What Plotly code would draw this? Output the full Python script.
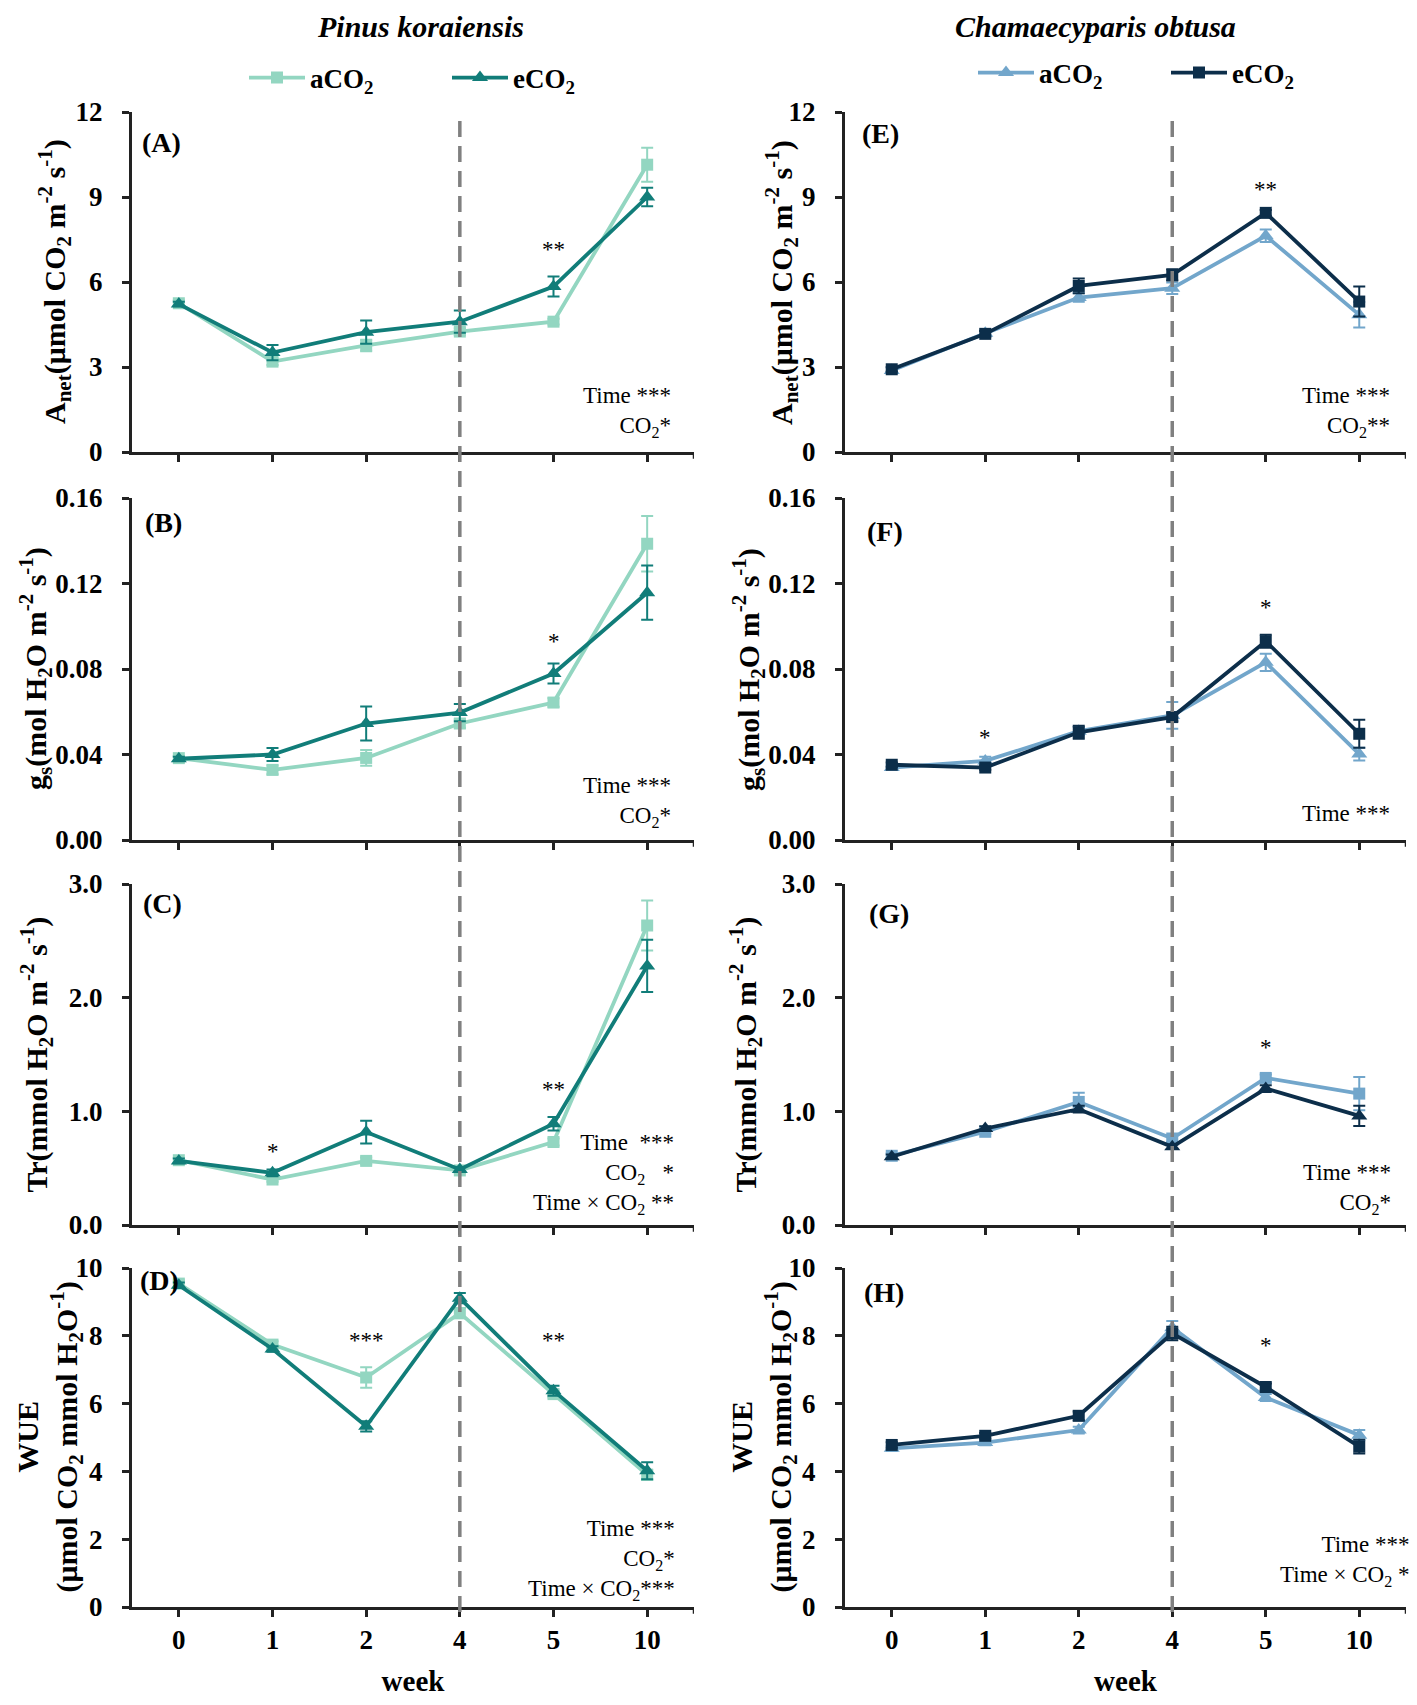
import plotly.graph_objects as go

# page has an 8px body margin, so the figure is sized to fit the 1417x1705 window
OFF = 8
W, H = 1417 - 2 * OFF, 1705 - 2 * OFF

weeks = ["0", "1", "2", "4", "5", "10"]

# Pinus koraiensis
pk_anet_a = [5.25, 3.19, 3.76, 4.25, 4.60, 10.14]
pk_anet_a_err = [0.10, 0.12, 0.20, 0.12, 0.10, 0.60]
pk_anet_e = [5.22, 3.51, 4.23, 4.60, 5.84, 9.00]
pk_anet_e_err = [0.08, 0.27, 0.41, 0.39, 0.35, 0.33]

pk_gs_a = [0.0383, 0.0328, 0.0384, 0.0545, 0.0643, 0.1386]
pk_gs_a_err = [0.001, 0.002, 0.0037, 0.002, 0.002, 0.013]
pk_gs_e = [0.0380, 0.0400, 0.0545, 0.0596, 0.0779, 0.1157]
pk_gs_e_err = [0.001, 0.003, 0.008, 0.004, 0.0047, 0.0127]

pk_tr_a = [0.57, 0.40, 0.564, 0.48, 0.73, 2.635]
pk_tr_a_err = [0.02, 0.02, 0.03, 0.02, 0.03, 0.22]
pk_tr_e = [0.564, 0.459, 0.818, 0.488, 0.891, 2.279]
pk_tr_e_err = [0.02, 0.03, 0.10, 0.02, 0.06, 0.23]

pk_wue_a = [9.54, 7.74, 6.77, 8.67, 6.28, 3.90]
pk_wue_a_err = [0.10, 0.10, 0.30, 0.15, 0.10, 0.15]
pk_wue_e = [9.49, 7.61, 5.33, 9.11, 6.38, 4.02]
pk_wue_e_err = [0.08, 0.08, 0.15, 0.15, 0.15, 0.25]

# Chamaecyparis obtusa
co_anet_a = [2.88, 4.19, 5.45, 5.78, 7.63, 4.84]
co_anet_a_err = [0.08, 0.10, 0.15, 0.20, 0.22, 0.45]
co_anet_e = [2.92, 4.17, 5.86, 6.25, 8.44, 5.31]
co_anet_e_err = [0.08, 0.10, 0.26, 0.20, 0.10, 0.53]

co_gs_a = [0.0339, 0.0370, 0.0509, 0.0583, 0.0831, 0.0402]
co_gs_a_err = [0.001, 0.002, 0.002, 0.0063, 0.004, 0.003]
co_gs_e = [0.0352, 0.0339, 0.0504, 0.0575, 0.0930, 0.0497]
co_gs_e_err = [0.001, 0.001, 0.003, 0.002, 0.003, 0.0066]

co_tr_a = [0.609, 0.82, 1.083, 0.761, 1.294, 1.156]
co_tr_a_err = [0.02, 0.02, 0.08, 0.03, 0.03, 0.146]
co_tr_e = [0.60, 0.849, 1.019, 0.688, 1.20, 0.96]
co_tr_e_err = [0.02, 0.02, 0.03, 0.02, 0.03, 0.09]

co_wue_a = [4.68, 4.85, 5.22, 8.24, 6.18, 5.07]
co_wue_a_err = [0.08, 0.08, 0.10, 0.20, 0.10, 0.15]
co_wue_e = [4.78, 5.05, 5.64, 8.07, 6.49, 4.73]
co_wue_e_err = [0.08, 0.08, 0.13, 0.20, 0.10, 0.20]

series_names = ["aCO<sub>2</sub>", "eCO<sub>2</sub>"]

PK_LIGHT, PK_DARK = "#93d6c1", "#117d79"
CO_LIGHT, CO_DARK = "#72a6cb", "#0c2e4a"
FONT = "Liberation Serif"


def px2x(p):
    return (p - OFF) / W


def px2y(p):
    return 1 - (p - OFF) / H


rows_px = [(112, 452), (498, 840), (884, 1225), (1268, 1607)]
cols_px = [(132, 694), (845, 1406)]

panels = [
    (0, 0, pk_anet_a, pk_anet_a_err, pk_anet_e, pk_anet_e_err, "square", "triangle-up"),
    (0, 1, pk_gs_a, pk_gs_a_err, pk_gs_e, pk_gs_e_err, "square", "triangle-up"),
    (0, 2, pk_tr_a, pk_tr_a_err, pk_tr_e, pk_tr_e_err, "square", "triangle-up"),
    (0, 3, pk_wue_a, pk_wue_a_err, pk_wue_e, pk_wue_e_err, "square", "triangle-up"),
    (1, 0, co_anet_a, co_anet_a_err, co_anet_e, co_anet_e_err, "triangle-up", "square"),
    (1, 1, co_gs_a, co_gs_a_err, co_gs_e, co_gs_e_err, "triangle-up", "square"),
    (1, 2, co_tr_a, co_tr_a_err, co_tr_e, co_tr_e_err, "square", "triangle-up"),
    (1, 3, co_wue_a, co_wue_a_err, co_wue_e, co_wue_e_err, "triangle-up", "square"),
]

y_ranges = [[0, 12], [0, 0.16], [0, 3], [0, 10]]
y_dticks = [3, 0.04, 1, 2]
y_formats = ["d", ".2f", ".1f", "d"]

y_titles = [
    "A<sub>net</sub>(μmol CO<sub>2</sub> m<sup>-2</sup> s<sup>-1</sup>)",
    "g<sub>s</sub>(mol H<sub>2</sub>O m<sup>-2</sup> s<sup>-1</sup>)",
    "Tr(mmol H<sub>2</sub>O m<sup>-2</sup> s<sup>-1</sup>)",
    "WUE<br>(μmol CO<sub>2</sub> mmol H<sub>2</sub>O<sup>-1</sup>)",
]
y_title_x = [[55, 35, 37, 49], [782, 748, 746, 763]]

letters = ["(A)", "(B)", "(C)", "(D)", "(E)", "(F)", "(G)", "(H)"]
letter_pos = [(140, 143), (143, 522), (141, 903), (138, 1280),
              (860, 133), (865, 532), (867, 913), (862, 1292)]

stats_text = [
    "Time ***<br>CO<sub>2</sub>*",
    "Time ***<br>CO<sub>2</sub>*",
    "Time\u00a0\u00a0***<br>CO<sub>2</sub>\u00a0\u00a0\u00a0*<br>Time × CO<sub>2</sub> **",
    "Time ***<br>CO<sub>2</sub>*<br>Time × CO<sub>2</sub>***",
    "Time ***<br>CO<sub>2</sub>**",
    "Time ***",
    "Time ***<br>CO<sub>2</sub>*",
    "Time ***<br>Time × CO<sub>2</sub> *",
]
stats_pos = [(673, 412), (673, 802), (676, 1174), (677, 1560),
             (1392, 412), (1392, 813), (1393, 1189), (1411, 1561)]

# significance stars: (panel index, week index, y value, text)
stars = [
    (0, 4, 7.13, "**"),
    (1, 4, 0.093, "*"),
    (2, 1, 0.65, "*"), (2, 4, 1.19, "**"),
    (3, 2, 7.85, "***"), (3, 4, 7.85, "**"),
    (4, 4, 9.26, "**"),
    (5, 1, 0.048, "*"), (5, 4, 0.109, "*"),
    (6, 4, 1.566, "*"),
    (7, 4, 7.71, "*"),
]

xpos = list(range(len(weeks)))

fig = go.Figure()
layout = dict(
    width=W, height=H,
    margin=dict(l=0, r=0, t=0, b=0, pad=0, autoexpand=False),
    paper_bgcolor="white", plot_bgcolor="white",
    font=dict(family=FONT, color="black"),
    showlegend=True,
)
annotations = []
shapes = []

for i, (col, row, la, lae, da, dae, lsym, dsym) in enumerate(panels):
    n = i + 1
    xa = "x" if n == 1 else f"x{n}"
    ya = "y" if n == 1 else f"y{n}"
    light = PK_LIGHT if col == 0 else CO_LIGHT
    dark = PK_DARK if col == 0 else CO_DARK
    leg = "legend" if col == 0 else "legend2"
    show = row == 0
    for vals, errs, color, sym, name in [(la, lae, light, lsym, series_names[0]),
                                         (da, dae, dark, dsym, series_names[1])]:
        fig.add_trace(go.Scatter(
            x=xpos, y=vals, xaxis=xa, yaxis=ya, mode="lines+markers",
            name=name, legend=leg, showlegend=show,
            line=dict(color=color, width=3.8),
            marker=dict(symbol=sym, size=12 if sym == "square" else 14, color=color),
            error_y=dict(type="data", array=errs, visible=True, color=color,
                         thickness=2, width=6),
        ))
    x0, x1 = cols_px[col]
    y0, y1 = rows_px[row]
    layout[f"xaxis{'' if n == 1 else n}"] = dict(
        domain=[px2x(x0), px2x(x1)], anchor=ya, range=[-0.5, 5.5],
        tickmode="array", tickvals=xpos, ticktext=weeks,
        showticklabels=(row == 3), ticks="outside", ticklen=7, tickwidth=2.5,
        tickcolor="#222", showline=True, linecolor="#222", linewidth=3,
        showgrid=False, zeroline=False, automargin=False,
        tickfont=dict(family=FONT, size=27, weight="bold"),
        title=dict(text="<b>week</b>" if row == 3 else "",
                   font=dict(family=FONT, size=29), standoff=30),
    )
    layout[f"yaxis{'' if n == 1 else n}"] = dict(
        domain=[px2y(y1), px2y(y0)], anchor=xa, range=y_ranges[row],
        dtick=y_dticks[row], tick0=0, tickformat=y_formats[row],
        ticks="outside", ticklen=7, tickwidth=2.5, tickcolor="#222",
        showline=True, linecolor="#222", linewidth=3, showgrid=False,
        zeroline=False, ticklabelstandoff=14, automargin=False,
        tickfont=dict(family=FONT, size=27, weight="bold"),
    )
    # extra tick at the right end of the x axis
    shapes.append(dict(type="line", xref=xa, yref=f"{ya} domain",
                       x0=5.5, x1=5.5, y0=0, y1=-0.02,
                       line=dict(color="#222", width=2.5)))
    # y axis title
    annotations.append(dict(
        text=f"<b>{y_titles[row]}</b>", textangle=-90,
        xref="paper", yref="paper", x=px2x(y_title_x[col][row]),
        y=px2y((y0 + y1) / 2), xanchor="center", yanchor="middle",
        showarrow=False, font=dict(family=FONT, size=30), align="center"))
    # panel letter
    lx, ly = letter_pos[i]
    annotations.append(dict(
        text=f"<b>{letters[i]}</b>", xref="paper", yref="paper",
        x=px2x(lx), y=px2y(ly), xanchor="left", yanchor="middle",
        showarrow=False, font=dict(family=FONT, size=28)))
    # stats text
    sx, sy = stats_pos[i]
    annotations.append(dict(
        text=stats_text[i], xref="paper", yref="paper",
        x=px2x(sx), y=px2y(sy), xanchor="right", yanchor="middle",
        align="right", showarrow=False, font=dict(family=FONT, size=23)))

for (pi, wi, yv, txt) in stars:
    n = pi + 1
    annotations.append(dict(
        text=txt, xref="x" if n == 1 else f"x{n}", yref="y" if n == 1 else f"y{n}",
        x=xpos[wi], y=yv, showarrow=False, xanchor="center", yanchor="middle",
        font=dict(family=FONT, size=23)))

# dashed vertical lines at week 4
for xa in ["x", "x5"]:
    shapes.append(dict(type="line", xref=xa, yref="paper",
                       x0=xpos[weeks.index("4")], x1=xpos[weeks.index("4")],
                       y0=px2y(1612), y1=px2y(115),
                       line=dict(color="#808080", width=3.5, dash="16px,9px"),
                       layer="above"))

# species titles
annotations.append(dict(text="<b><i>Pinus koraiensis</i></b>", xref="paper", yref="paper",
                        x=px2x(420), y=1.0, xanchor="center", yanchor="top",
                        showarrow=False, font=dict(family=FONT, size=30)))
annotations.append(dict(text="<b><i>Chamaecyparis obtusa</i></b>", xref="paper", yref="paper",
                        x=px2x(1095), y=1.0, xanchor="center", yanchor="top",
                        showarrow=False, font=dict(family=FONT, size=30)))

layout["annotations"] = annotations
layout["shapes"] = shapes
layout["legend"] = dict(orientation="h", x=px2x(244), y=px2y(78), xanchor="left",
                        yanchor="middle", font=dict(family=FONT, size=27, weight="bold"),
                        bgcolor="rgba(0,0,0,0)", entrywidth=132, itemwidth=56)
layout["legend2"] = dict(orientation="h", x=px2x(973), y=px2y(73), xanchor="left",
                         yanchor="middle", font=dict(family=FONT, size=27, weight="bold"),
                         bgcolor="rgba(0,0,0,0)", entrywidth=122, itemwidth=56)

fig.update_layout(**layout)
fig.write_html("out.html")
